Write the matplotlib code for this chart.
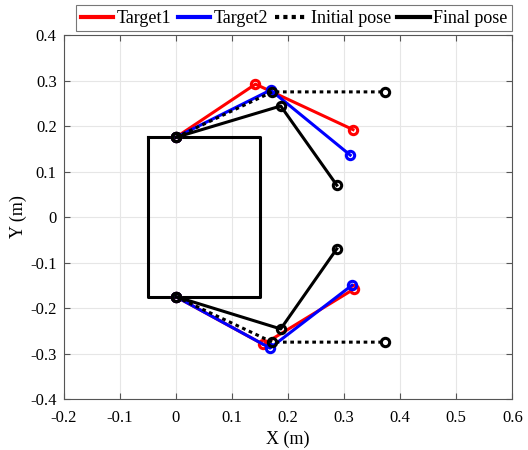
import matplotlib.pyplot as plt

plt.rcParams['font.family'] = ['Liberation Serif', 'DejaVu Serif']
plt.rcParams['mathtext.fontset'] = 'stix'

# Joint positions (base, elbow, end) for each arm, upper and lower
base_x = [0.0, 0.0]
base_y = [0.175, -0.175]

target1_elbow_x = [0.142, 0.156]
target1_elbow_y = [0.292, -0.280]
target1_end_x = [0.316, 0.318]
target1_end_y = [0.192, -0.158]

target2_elbow_x = [0.169, 0.168]
target2_elbow_y = [0.279, -0.288]
target2_end_x = [0.311, 0.314]
target2_end_y = [0.136, -0.150]

initial_elbow_x = [0.172, 0.172]
initial_elbow_y = [0.275, -0.275]
initial_end_x = [0.373, 0.373]
initial_end_y = [0.275, -0.275]

final_elbow_x = [0.187, 0.187]
final_elbow_y = [0.244, -0.246]
final_end_x = [0.287, 0.287]
final_end_y = [0.070, -0.070]

# Body rectangle
body_x = [-0.05, 0.15, 0.15, -0.05, -0.05]
body_y = [0.175, 0.175, -0.175, -0.175, 0.175]

series = [
    ('Target1', 'red', False, target1_elbow_x, target1_elbow_y, target1_end_x, target1_end_y),
    ('Target2', 'blue', False, target2_elbow_x, target2_elbow_y, target2_end_x, target2_end_y),
    ('Initial pose', 'black', True, initial_elbow_x, initial_elbow_y, initial_end_x, initial_end_y),
    ('Final pose', 'black', False, final_elbow_x, final_elbow_y, final_end_x, final_end_y),
]
DOTS = (1.2, 1.2)

fig = plt.figure(figsize=(5.28, 4.5), dpi=100)
ax = fig.add_axes([0.1206, 0.1133, 0.8497, 0.8089])

ax.plot(body_x, body_y, color='black', lw=2.2, zorder=2)

leg_handles = []
for name, color, dotted, ex, ey, tx, ty in series:
    for i in range(2):
        xs = [base_x[i], ex[i], tx[i]]
        ys = [base_y[i], ey[i], ty[i]]
        line, = ax.plot(xs, ys, color=color, lw=2.2, marker='o',
                        ms=6, mfc='none', mew=2.2, zorder=3)
        if dotted:
            line.set_dashes(DOTS)
    proxy = plt.Line2D([], [], color=color, lw=3)
    if dotted:
        proxy.set_dashes((1.0, 1.0))
    leg_handles.append(proxy)

ax.set_xlim(-0.2, 0.6)
ax.set_ylim(-0.4, 0.4)
ax.set_xticks([-0.2, -0.1, 0, 0.1, 0.2, 0.3, 0.4, 0.5, 0.6])
ax.set_yticks([-0.4, -0.3, -0.2, -0.1, 0, 0.1, 0.2, 0.3, 0.4])
ax.set_xticklabels(['-0.2', '-0.1', '0', '0.1', '0.2', '0.3', '0.4', '0.5', '0.6'])
ax.set_yticklabels(['-0.4', '-0.3', '-0.2', '-0.1', '0', '0.1', '0.2', '0.3', '0.4'])
ax.grid(True, color='#e6e6e6', lw=0.8)
ax.set_axisbelow(True)
ax.tick_params(direction='in', top=True, right=True, labelsize=12,
               color='#555555', length=4)
ax.tick_params(axis='x', pad=8)
ax.tick_params(axis='y', pad=5)
for s in ax.spines.values():
    s.set_color('#555555')
    s.set_linewidth(0.8)

ax.set_xlabel('X (m)', fontsize=13, labelpad=3)
ax.set_ylabel('Y (m)', fontsize=13, labelpad=2)

leg = ax.legend(leg_handles, [s[0] for s in series], ncol=4, loc='lower right',
                bbox_to_anchor=(1.0, 1.01), fontsize=13, frameon=True,
                fancybox=False, edgecolor='#555555', handlelength=1.8,
                handletextpad=0.2, columnspacing=0.35, borderpad=0.25,
                borderaxespad=0)
leg.get_frame().set_linewidth(0.8)

fig.savefig('out.png', dpi=100)
